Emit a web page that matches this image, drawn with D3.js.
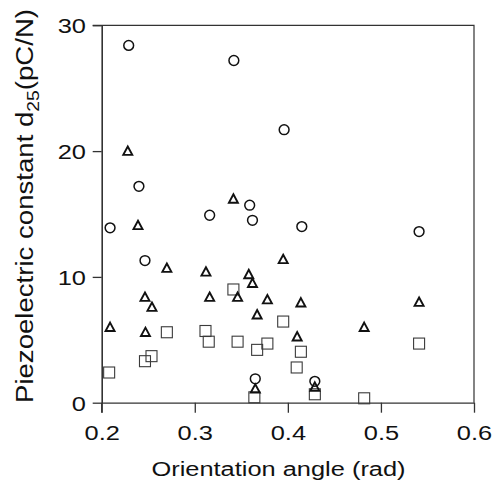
<!DOCTYPE html>
<html>
<head>
<meta charset="utf-8">
<script src="https://cdn.jsdelivr.net/npm/d3@7/dist/d3.min.js"></script>
<style>
  html, body { margin: 0; padding: 0; background: #fff; }
  svg { display: block; }
  text { font-family: "Liberation Sans", Arial, Helvetica, sans-serif; fill: #111; }
</style>
</head>
<body>
<svg id="chart" width="494" height="496"></svg>
<script>
// Orientation angle (rad) and piezoelectric constant d25 (pC/N) for three sample groups
const circleAngle = [0.209, 0.229, 0.240, 0.2465, 0.316, 0.342, 0.359, 0.362, 0.365, 0.396, 0.415, 0.429, 0.541];
const circleD25   = [13.9, 28.4, 17.2, 11.3, 14.9, 27.2, 15.7, 14.5, 1.9, 21.7, 14.0, 1.7, 13.6];

const triangleAngle = [0.228, 0.3415, 0.239, 0.270, 0.312, 0.358, 0.362, 0.2465, 0.254, 0.316, 0.346,
                       0.378, 0.367, 0.209, 0.247, 0.365, 0.395, 0.414, 0.541, 0.482, 0.410, 0.429];
const triangleD25   = [20.0, 16.2, 14.1, 10.7, 10.4, 10.2, 9.5, 8.4, 7.6, 8.4, 8.4,
                       8.2, 7.0, 6.0, 5.6, 1.1, 11.4, 7.95, 8.0, 6.0, 5.25, 1.25];

const squareAngle = [0.208, 0.2465, 0.2535, 0.270, 0.3115, 0.315, 0.3415, 0.346, 0.367, 0.378,
                     0.364, 0.395, 0.414, 0.4095, 0.429, 0.482, 0.541];
const squareD25   = [2.4, 3.3, 3.7, 5.6, 5.7, 4.85, 9.0, 4.85, 4.2, 4.7,
                     0.43, 6.45, 4.05, 2.8, 0.67, 0.35, 4.7];

const xTicks = [0.2, 0.3, 0.4, 0.5, 0.6];
const yTicks = [0, 10, 20, 30];
const xTitle = "Orientation angle (rad)";

const svg = d3.select("#chart");
const margin = { left: 101.7, right: 20, top: 25.3, bottom: 93.3 };
const W = 494, H = 496;
const plotW = W - margin.left - margin.right;   // 372.6
const plotH = H - margin.top - margin.bottom;   // 377.4

const x = d3.scaleLinear().domain([0.2, 0.6]).range([margin.left, margin.left + plotW]);
const y = d3.scaleLinear().domain([0, 30]).range([margin.top + plotH, margin.top]);

const STRETCH = 1.27;
const axisColor = "#333";

// Frame: top and right edges
svg.append("path")
  .attr("d", `M${x(0.2) - 9},${y(30)}H${x(0.6)}V${y(0)}`)
  .attr("fill", "none").attr("stroke", axisColor).attr("stroke-width", 1.2);

// Bottom axis, ticks pointing down
const gx = svg.append("g").attr("transform", `translate(0,${y(0)})`)
  .call(d3.axisBottom(x).tickValues(xTicks).tickSize(10).tickSizeOuter(0).tickFormat(d3.format(".1f")));
gx.select(".domain").attr("stroke", axisColor).attr("stroke-width", 1.3);
gx.selectAll(".tick line").attr("stroke", axisColor).attr("stroke-width", 1.3);
gx.selectAll(".tick text")
  .attr("y", null).attr("dy", null)
  .attr("transform", `translate(0,37.3) scale(${STRETCH},1)`)
  .style("font-size", "20px").attr("fill", "#111");

// Left axis, ticks pointing left
const gy = svg.append("g").attr("transform", `translate(${x(0.2)},0)`)
  .call(d3.axisLeft(y).tickValues(yTicks).tickSize(9).tickSizeOuter(0).tickFormat(d3.format("d")));
gy.select(".domain").attr("stroke", axisColor).attr("stroke-width", 1.6);
gy.selectAll(".tick line").attr("stroke", axisColor).attr("stroke-width", 1.3);
gy.selectAll(".tick text")
  .attr("x", null).attr("dy", null)
  .attr("transform", `translate(-15.7,7.3) scale(${STRETCH},1)`)
  .style("font-size", "20px").attr("fill", "#111");
// left axis continues a little below zero
svg.append("line")
  .attr("x1", x(0.2)).attr("x2", x(0.2)).attr("y1", y(0)).attr("y2", y(0) + 10)
  .attr("stroke", axisColor).attr("stroke-width", 1.3);

// Axis titles
svg.append("text")
  .attr("transform", `translate(278.5,476) scale(${STRETCH},1)`)
  .attr("text-anchor", "middle").style("font-size", "20px")
  .text(xTitle);

const yt = svg.append("text")
  .attr("transform", `translate(33,206) rotate(-90) scale(1.38,1.22)`)
  .attr("text-anchor", "middle").style("font-size", "20px");
yt.append("tspan").text("Piezoelectric constant d");
yt.append("tspan").attr("dy", 5).style("font-size", "14px").text("25");
yt.append("tspan").attr("dy", -5).text("(pC/N)");

// Markers
const plot = svg.append("g");

const squares = d3.zip(squareAngle, squareD25);
plot.selectAll("rect.sq").data(squares).join("rect")
  .attr("class", "sq")
  .attr("x", d => x(d[0]) - 5.5).attr("y", d => y(d[1]) - 5.5)
  .attr("width", 11).attr("height", 11)
  .attr("fill", "none").attr("stroke", "#3a3a3a").attr("stroke-width", 1.1);

const triangles = d3.zip(triangleAngle, triangleD25);
plot.selectAll("path.tri").data(triangles).join("path")
  .attr("class", "tri")
  .attr("d", d => {
    const cx = x(d[0]), cy = y(d[1]);
    return `M${cx},${cy - 4.6}L${cx + 4.5},${cy + 3.8}L${cx - 4.5},${cy + 3.8}Z`;
  })
  .attr("fill", "none").attr("stroke", "#111").attr("stroke-width", 1.9)
  .attr("stroke-linejoin", "miter");

const circles = d3.zip(circleAngle, circleD25);
plot.selectAll("circle.ci").data(circles).join("circle")
  .attr("class", "ci")
  .attr("cx", d => x(d[0])).attr("cy", d => y(d[1])).attr("r", 4.9)
  .attr("fill", "none").attr("stroke", "#111").attr("stroke-width", 1.5);
</script>
</body>
</html>
